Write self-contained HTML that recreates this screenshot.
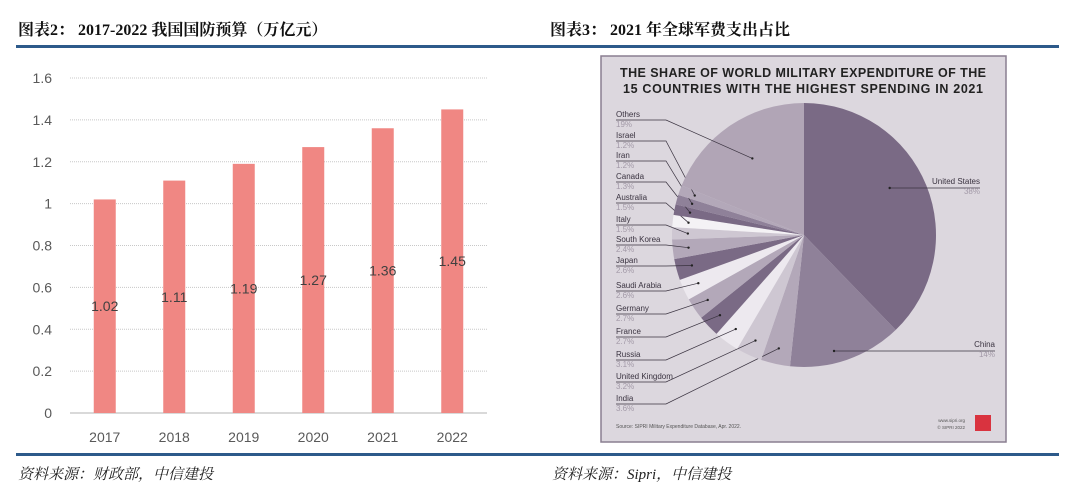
<!DOCTYPE html>
<html><head><meta charset="utf-8">
<style>
body{margin:0;width:1080px;height:496px;background:#fff;position:relative;overflow:hidden;font-family:"Liberation Sans","Noto Sans CJK SC",sans-serif}
.t{position:absolute;font-family:"Liberation Serif","Noto Serif CJK SC",serif;font-weight:bold;font-size:16px;color:#111}
.f{position:absolute;font-family:"Liberation Serif","Noto Serif CJK SC",serif;font-style:italic;font-size:15px;color:#222}
.rule{position:absolute;height:3px;background:#2d5a8a}
</style></head><body>
<div class="t" style="left:18px;top:17px">图表2： 2017-2022 我国国防预算（万亿元）</div>
<div class="t" style="left:550px;top:17px">图表3： 2021 年全球军费支出占比</div>
<div class="rule" style="left:16px;top:45px;width:1043px"></div>
<div class="rule" style="left:16px;top:453px;width:1043px"></div>
<div class="f" style="left:18px;top:463px">资料来源：财政部，中信建投</div>
<div class="f" style="left:552px;top:463px">资料来源：Sipri，中信建投</div>

<svg id="bar" width="540" height="450" style="position:absolute;left:0;top:0"></svg>
<svg id="pie" width="1080" height="496" style="position:absolute;left:0;top:0"></svg>

<script>
const years=["2017","2018","2019","2020","2021","2022"];
const budget=[1.02,1.11,1.19,1.27,1.36,1.45];
const yTicks=[0,0.2,0.4,0.6,0.8,1,1.2,1.4,1.6];
const countries=["United States","China","India","United Kingdom","Russia","France","Germany","Saudi Arabia","Japan","South Korea","Italy","Australia","Canada","Iran","Israel","Others"];
const shares=[38,14,3.6,3.2,3.1,2.7,2.7,2.6,2.6,2.4,1.5,1.5,1.3,1.2,1.2,19];
const shareLabels=["38%","14%","3.6%","3.2%","3.1%","2.7%","2.7%","2.6%","2.6%","2.4%","1.5%","1.5%","1.3%","1.2%","1.2%","19%"];

const NS="http://www.w3.org/2000/svg";
function mk(p,tag,a,txt){const e=document.createElementNS(NS,tag);for(const k in a)e.setAttribute(k,a[k]);if(txt!==undefined)e.textContent=txt;p.appendChild(e);return e;}

// bar chart
const bar=document.getElementById('bar');
const x0=70,x1=487,yb=413,yt=78,vmax=1.6;
const ys=v=>yb-(v/vmax)*(yb-yt);
const step=(x1-x0)/years.length;
const xs=i=>x0+step*(i+0.5);
yTicks.forEach(v=>{
  const l=mk(bar,'line',{x1:x0,x2:x1,y1:ys(v),y2:ys(v),stroke:v===0?'#d9d9d9':'#c8c8c8','stroke-width':v===0?2:1,'stroke-dasharray':v===0?'':'1,1'});
  
  
  const t=mk(bar,'text',{x:52,y:ys(v)+5,'text-anchor':'end','font-size':14,fill:'#595959'},String(v));
  
  
});
budget.forEach((v,i)=>{
  const r=mk(bar,'rect',{x:xs(i)-11,y:ys(v),width:22,height:yb-ys(v),fill:'#f08783'});
  
  
  const t=mk(bar,'text',{x:xs(i),y:(ys(v)+yb)/2+5,'text-anchor':'middle','font-size':14,fill:'#404040'},v.toFixed(2));
  
  
  const y=mk(bar,'text',{x:xs(i),y:442,'text-anchor':'middle','font-size':14,fill:'#595959'},years[i]);
  
  
});

// pie
const pie=document.getElementById('pie');
const frame=mk(pie,'rect',{x:601,y:56,width:405,height:386,fill:'#dcd7de',stroke:'#8a7f90','stroke-width':1.5});


const h1=mk(pie,'text',{x:803,y:77,'text-anchor':'middle','font-size':12.5,'font-weight':'bold',fill:'#222','textLength':366},'THE SHARE OF WORLD MILITARY EXPENDITURE OF THE');


const h2=mk(pie,'text',{x:803,y:93,'text-anchor':'middle','font-size':12.5,'font-weight':'bold',fill:'#222','textLength':360},'15 COUNTRIES WITH THE HIGHEST SPENDING IN 2021');


const colors=['#7a6a85','#8f8199','#b3a8b9','#cec7d2','#ede9ef','#7a6a85','#b3a8b9','#ede9ef','#7a6a85','#b3a8b9','#cec7d2','#f4f2f5','#7a6a85','#8f8199','#b3a8b9','#b1a5b6'];
const cx=804,cy=235,R=132;
const tot=shares.reduce((a,b)=>a+b,0);
let acc=0;
const leftY={"India":401,"United Kingdom":379,"Russia":357,"France":334,"Germany":311,"Saudi Arabia":288,"Japan":263,"South Korea":242,"Italy":222,"Australia":200,"Canada":179,"Iran":158,"Israel":138,"Others":117};
shares.forEach((s,i)=>{
  const a0=acc/tot*2*Math.PI;acc+=s;const a1=acc/tot*2*Math.PI;
  const p=(a)=>[cx+R*Math.sin(a),cy-R*Math.cos(a)];
  const [sx,sy]=p(a0),[ex,ey]=p(a1);
  const path=mk(pie,'path',{d:`M${cx},${cy}L${sx},${sy}A${R},${R} 0 ${a1-a0>Math.PI?1:0} 1 ${ex},${ey}Z`,fill:colors[i]});
  
  
  const am=(a0+a1)/2,rr=i===0||i===1||i===15?R*0.7:R*0.88;
  let px=cx+rr*Math.sin(am),py=cy-rr*Math.cos(am);
  let lx,ly,anchor;
  if(i===0){lx=980;ly=184;anchor='end';}
  else if(i===1){lx=995;ly=347;anchor='end';}
  else{lx=616;ly=leftY[countries[i]];anchor='start';}
  let d;
  if(anchor==='end'){py=ly+4;d=`M${px},${py}L${lx},${py}`;}
  else d=`M${lx},${ly+3}L${666},${ly+3}L${px},${py}`;
  const ln=mk(pie,'path',{d:d,fill:'none',stroke:'#3a3340','stroke-width':0.7});
  
  
  mk(pie,'circle',{cx:px,cy:py,r:1.2,fill:'#222'});
  const nm=mk(pie,'text',{x:lx,y:ly,'text-anchor':anchor,'font-size':8,fill:'#3a3340'},countries[i]);
  
  
  const pc=mk(pie,'text',{x:lx,y:ly+10,'text-anchor':anchor,'font-size':8,fill:'#a39aa8'},shareLabels[i]);
  
  
});
const src=mk(pie,'text',{x:616,y:428,'font-size':5,fill:'#555'},'Source: SIPRI Military Expenditure Database, Apr. 2022.');


const w1=mk(pie,'text',{x:965,y:422,'text-anchor':'end','font-size':4.5,fill:'#555'},'www.sipri.org');


const w2=mk(pie,'text',{x:965,y:429,'text-anchor':'end','font-size':4.5,fill:'#555'},'© SIPRI 2022');


const logo=mk(pie,'rect',{x:975,y:415,width:16,height:16,fill:'#d9333f'});


</script>
</body></html>
